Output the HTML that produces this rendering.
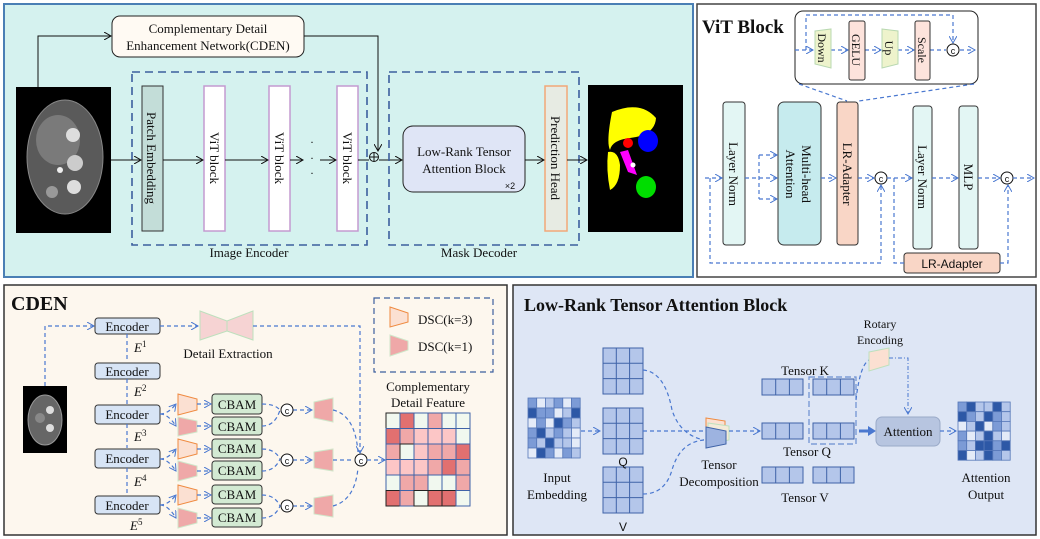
<!DOCTYPE html>
<html><head><meta charset="utf-8"><style>
html,body{margin:0;padding:0;background:#fff}
svg{display:block}
text{font-family:"Liberation Serif",serif;fill:#111}
.s{font-family:"Liberation Sans",sans-serif}
.d{stroke:#4a78d0;stroke-width:1.2;stroke-dasharray:4 3;fill:none}
.k{stroke:#111;stroke-width:1;fill:none}
</style></head><body>
<svg width="1040" height="539" viewBox="0 0 1040 539" xmlns="http://www.w3.org/2000/svg">
<defs>
<marker id="ak" markerWidth="8" markerHeight="8" refX="7" refY="4" orient="auto" markerUnits="userSpaceOnUse"><path d="M0,0 L7,4 L0,8" fill="none" stroke="#111" stroke-width="1"/></marker>
<marker id="ab" markerWidth="8" markerHeight="8" refX="7" refY="4" orient="auto" markerUnits="userSpaceOnUse"><path d="M0,0 L7,4 L0,8" fill="none" stroke="#4a78d0" stroke-width="1"/></marker>
</defs>

<!-- PANEL 1 -->
<rect x="4" y="4" width="689" height="273" fill="#d5f2ef" stroke="#4a7fb5" stroke-width="2"/>
<rect x="112" y="16" width="192" height="41" rx="8" fill="#fffaf3" stroke="#222"/>
<text x="208" y="33" font-size="13" text-anchor="middle">Complementary Detail</text>
<text x="208" y="50" font-size="13" text-anchor="middle">Enhancement Network(CDEN)</text>
<path d="M38,87 V36 H111" class="k" marker-end="url(#ak)"/>
<path d="M304,36 H378 V151" class="k" marker-end="url(#ak)"/>
<!-- CT -->
<rect x="16" y="87" width="95" height="146" fill="#000"/>
<ellipse cx="65" cy="157" rx="38" ry="57" fill="#5a5a5a" stroke="#888"/>
<ellipse cx="58" cy="140" rx="22" ry="25" fill="#7a7a7a"/>
<circle cx="73" cy="135" r="7" fill="#ddd"/><circle cx="75" cy="163" r="8" fill="#ccc"/><circle cx="74" cy="187" r="7" fill="#ddd"/>
<circle cx="52" cy="192" r="6" fill="#999"/><circle cx="60" cy="170" r="3" fill="#eee"/>
<!-- image encoder -->
<rect x="132" y="72" width="235" height="173" fill="none" stroke="#3d5f9e" stroke-width="1.6" stroke-dasharray="8 5"/>
<text x="249" y="257" font-size="13" text-anchor="middle">Image Encoder</text>
<rect x="142" y="86" width="21" height="145" fill="#c3ddd8" stroke="#333"/>
<text transform="translate(147,158) rotate(90)" font-size="13" text-anchor="middle">Patch Embedding</text>
<rect x="204" y="86" width="21" height="145" fill="#fff" stroke="#c49ad0" stroke-width="1.5"/>
<text transform="translate(210,158) rotate(90)" font-size="13" text-anchor="middle">ViT block</text>
<rect x="269" y="86" width="21" height="145" fill="#fff" stroke="#c49ad0" stroke-width="1.5"/>
<text transform="translate(275,158) rotate(90)" font-size="13" text-anchor="middle">ViT block</text>
<rect x="337" y="86" width="21" height="145" fill="#fff" stroke="#c49ad0" stroke-width="1.5"/>
<text transform="translate(343,158) rotate(90)" font-size="13" text-anchor="middle">ViT block</text>
<text x="312" y="146" font-size="12" text-anchor="middle">·</text><text x="312" y="162" font-size="12" text-anchor="middle">·</text><text x="312" y="177" font-size="12" text-anchor="middle">·</text>
<circle cx="374" cy="157" r="4.5" fill="none" stroke="#111"/><path d="M369.5,157 H378.5 M374,152.5 V161.5" stroke="#111"/>
<path d="M111,160 H141" class="k" marker-end="url(#ak)"/>
<path d="M163,160 H203" class="k" marker-end="url(#ak)"/>
<path d="M225,160 H268" class="k" marker-end="url(#ak)"/>
<path d="M290,160 H303" class="k" marker-end="url(#ak)"/>
<path d="M320,160 H336" class="k" marker-end="url(#ak)"/>
<path d="M358,160 H369"  class="k"/>
<path d="M379,160 H402" class="k" marker-end="url(#ak)"/>
<!-- mask decoder -->
<rect x="389" y="72" width="190" height="173" fill="none" stroke="#3d5f9e" stroke-width="1.6" stroke-dasharray="8 5"/>
<text x="479" y="257" font-size="13" text-anchor="middle">Mask Decoder</text>
<rect x="403" y="126" width="122" height="66" rx="10" fill="#dfe5f6" stroke="#222"/>
<text x="464" y="156" font-size="13" text-anchor="middle">Low-Rank Tensor</text>
<text x="464" y="173" font-size="13" text-anchor="middle">Attention Block</text>
<text x="510" y="189" font-size="9" class="s" text-anchor="middle">×2</text>
<rect x="545" y="86" width="22" height="145" fill="#e7ebe3" stroke="#f2a878" stroke-width="1.5"/>
<text transform="translate(551,158) rotate(90)" font-size="13" text-anchor="middle">Prediction Head</text>
<path d="M525,160 H544" class="k" marker-end="url(#ak)"/>
<path d="M567,160 H587" class="k" marker-end="url(#ak)"/>
<rect x="588" y="85" width="95" height="147" fill="#000"/>
<path d="M612,112 Q640,100 656,118 Q655,135 630,138 Q612,140 610,150 Q606,142 612,112 Z" fill="#ffff00"/>
<path d="M608,152 Q618,150 620,165 Q620,185 610,190 Q606,170 608,152Z" fill="#ffff00"/>
<ellipse cx="648" cy="141" rx="10" ry="11" fill="#0000ff"/>
<ellipse cx="628" cy="143" rx="5" ry="5" fill="#ff0000"/>
<path d="M620,152 L628,150 L637,175 L628,172 Z" fill="#ff00ff"/>
<ellipse cx="646" cy="187" rx="10" ry="11" fill="#00dd00"/>
<circle cx="633" cy="165" r="2.5" fill="#fff"/>

<!-- PANEL 2 -->
<rect x="697" y="4" width="339" height="273" fill="#fff" stroke="#444" stroke-width="1.5"/>
<text x="702" y="33" font-size="19" font-weight="bold">ViT Block</text>
<rect x="795" y="11" width="183" height="73" rx="8" fill="#fff" stroke="#222"/>
<path d="M795,50 H813" class="d" marker-end="url(#ab)"/>
<path d="M806,50 V15 H953 V43" class="d" marker-end="url(#ab)"/>
<path d="M831,50 H848" class="d" marker-end="url(#ab)"/>
<path d="M865,50 H881" class="d" marker-end="url(#ab)"/>
<path d="M898,50 H914" class="d" marker-end="url(#ab)"/>
<path d="M930,50 H946" class="d"/>
<path d="M960,50 H975" class="d" marker-end="url(#ab)"/>
<path d="M815,31 L831,29 L831,68 L815,64 Z" fill="#eef3cc" stroke="#b8d8b0"/>
<text transform="translate(818,48) rotate(90)" font-size="12" text-anchor="middle">Down</text>
<rect x="849" y="21" width="16" height="59" rx="2" fill="#fde3dc" stroke="#333"/>
<text transform="translate(852,50) rotate(90)" font-size="12" text-anchor="middle">GELU</text>
<path d="M882,29 L898,31 L898,64 L882,68 Z" fill="#eef3cc" stroke="#b8d8b0"/>
<text transform="translate(885,48) rotate(90)" font-size="12" text-anchor="middle">Up</text>
<rect x="915" y="21" width="15" height="59" rx="2" fill="#fde3dc" stroke="#333"/>
<text transform="translate(918,50) rotate(90)" font-size="12" text-anchor="middle">Scale</text>
<circle cx="953" cy="50" r="6" fill="#fff" stroke="#111"/><text x="953" y="54" font-size="9" class="s" text-anchor="middle">c</text>
<path d="M799,84 L847,101 M974,84 L859,101" class="d"/>
<rect x="723" y="102" width="22" height="143" rx="3" fill="#e3f6f4" stroke="#333"/>
<text transform="translate(729,174) rotate(90)" font-size="13" text-anchor="middle">Layer Norm</text>
<rect x="778" y="102" width="43" height="143" rx="6" fill="#c6ebee" stroke="#333"/>
<text transform="translate(802,174) rotate(90)" font-size="13" text-anchor="middle">Multi-head</text>
<text transform="translate(786,174) rotate(90)" font-size="13" text-anchor="middle">Attention</text>
<rect x="837" y="102" width="21" height="143" rx="3" fill="#f9d6c6" stroke="#333"/>
<text transform="translate(843,174) rotate(90)" font-size="13" text-anchor="middle">LR-Adapter</text>
<rect x="913" y="106" width="19" height="143" rx="3" fill="#e3f6f4" stroke="#333"/>
<text transform="translate(918,177) rotate(90)" font-size="13" text-anchor="middle">Layer Norm</text>
<rect x="959" y="106" width="19" height="143" rx="3" fill="#e3f6f4" stroke="#333"/>
<text transform="translate(964,177) rotate(90)" font-size="13" text-anchor="middle">MLP</text>
<rect x="904" y="253" width="96" height="20" rx="3" fill="#f9d6c6" stroke="#333"/>
<text x="952" y="268" font-size="12" class="s" text-anchor="middle">LR-Adapter</text>
<circle cx="881" cy="178" r="6" fill="#fff" stroke="#111"/><text x="881" y="182" font-size="9" class="s" text-anchor="middle">c</text>
<circle cx="1007" cy="178" r="6" fill="#fff" stroke="#111"/><text x="1007" y="182" font-size="9" class="s" text-anchor="middle">c</text>
<path d="M705,178 H722" class="d" marker-end="url(#ab)"/>
<path d="M745,178 H777" class="d" marker-end="url(#ab)"/>
<path d="M759,155 V199" class="d"/>
<path d="M759,155 H777" class="d" marker-end="url(#ab)"/>
<path d="M759,199 H777" class="d" marker-end="url(#ab)"/>
<path d="M821,178 H836" class="d" marker-end="url(#ab)"/>
<path d="M858,178 H874" class="d" marker-end="url(#ab)"/>
<path d="M887,178 H912" class="d" marker-end="url(#ab)"/>
<path d="M932,178 H958" class="d" marker-end="url(#ab)"/>
<path d="M978,178 H1000" class="d" marker-end="url(#ab)"/>
<path d="M1013,178 H1034" class="d" marker-end="url(#ab)"/>
<path d="M710,178 V263 H881 V185" class="d" marker-end="url(#ab)"/>
<path d="M894,178 V263 H904" class="d"/>
<path d="M1000,263 H1008 V185" class="d" marker-end="url(#ab)"/>

<!-- PANEL 3 -->
<rect x="4" y="285" width="503" height="250" fill="#fdf7ee" stroke="#333" stroke-width="1.5"/>
<text x="11" y="310" font-size="20" font-weight="bold">CDEN</text>
<rect x="23" y="386" width="44" height="67" fill="#000"/>
<ellipse cx="45" cy="420" rx="17" ry="25" fill="#666" stroke="#999"/>
<circle cx="50" cy="410" r="4" fill="#ddd"/><circle cx="50" cy="428" r="4" fill="#ddd"/><circle cx="40" cy="418" r="5" fill="#888"/>
<path d="M45,386 V326 H94" class="d" marker-end="url(#ab)"/>
<g font-size="13">
<rect x="95" y="318" width="65" height="16" rx="3" fill="#d7e4f5" stroke="#333"/><text x="127" y="331" text-anchor="middle">Encoder</text>
<rect x="95" y="363" width="65" height="16" rx="3" fill="#d7e4f5" stroke="#333"/><text x="127" y="376" text-anchor="middle">Encoder</text>
<rect x="95" y="405" width="65" height="19" rx="3" fill="#d7e4f5" stroke="#333"/><text x="127" y="419" text-anchor="middle">Encoder</text>
<rect x="95" y="449" width="65" height="19" rx="3" fill="#d7e4f5" stroke="#333"/><text x="127" y="463" text-anchor="middle">Encoder</text>
<rect x="95" y="496" width="65" height="18" rx="3" fill="#d7e4f5" stroke="#333"/><text x="127" y="510" text-anchor="middle">Encoder</text>
</g>
<path d="M127,334 V362 M127,379 V404 M127,424 V448 M127,468 V495" class="d" stroke-dasharray="3 2"/>
<g font-size="13" font-style="italic">
<text x="134" y="352">E<tspan font-size="9" dy="-5" font-style="normal">1</tspan></text>
<text x="134" y="396">E<tspan font-size="9" dy="-5" font-style="normal">2</tspan></text>
<text x="134" y="441">E<tspan font-size="9" dy="-5" font-style="normal">3</tspan></text>
<text x="134" y="486">E<tspan font-size="9" dy="-5" font-style="normal">4</tspan></text>
<text x="130" y="530">E<tspan font-size="9" dy="-5" font-style="normal">5</tspan></text>
</g>
<path d="M160,326 H198" class="d" marker-end="url(#ab)"/>
<path d="M200,311 L227,321 L253,311 L253,340 L227,331 L200,340 Z" fill="#f6d3d3" stroke="#bde0bd"/>
<path d="M227,321 V331" stroke="#bde0bd"/>
<text x="228" y="358" font-size="13" text-anchor="middle">Detail Extraction</text>
<path d="M253,326 H360 V453" class="d" marker-end="url(#ab)"/>
<rect x="374" y="298" width="119" height="74" fill="none" stroke="#3d5f9e" stroke-width="1.2" stroke-dasharray="6 4"/>
<path d="M390,307 L408,313 L408,322 L390,327 Z" fill="#fbe0d2" stroke="#ef8a40"/>
<text x="418" y="324" font-size="13">DSC(k=3)</text>
<path d="M390,335 L408,341 L408,350 L390,356 Z" fill="#efa8a8" stroke="#cfe6c9"/>
<text x="418" y="351" font-size="13">DSC(k=1)</text>
<g>
<path d="M178,394 L197,399 L197,410 L178,415 Z" fill="#fbe0d2" stroke="#ef8a40"/>
<path d="M178,417 L197,421 L197,432 L178,436 Z" fill="#efa8a8" stroke="#cfe6c9"/>
<path d="M178,439 L197,444 L197,454 L178,459 Z" fill="#fbe0d2" stroke="#ef8a40"/>
<path d="M178,461 L197,466 L197,476 L178,481 Z" fill="#efa8a8" stroke="#cfe6c9"/>
<path d="M178,485 L197,490 L197,500 L178,505 Z" fill="#fbe0d2" stroke="#ef8a40"/>
<path d="M178,508 L197,513 L197,523 L178,528 Z" fill="#efa8a8" stroke="#cfe6c9"/>
</g>
<g font-size="13">
<rect x="212" y="394" width="50" height="20" rx="3" fill="#d3ead3" stroke="#333"/><text x="237" y="409" text-anchor="middle">CBAM</text>
<rect x="212" y="417" width="50" height="18" rx="3" fill="#d3ead3" stroke="#333"/><text x="237" y="431" text-anchor="middle">CBAM</text>
<rect x="212" y="439" width="50" height="19" rx="3" fill="#d3ead3" stroke="#333"/><text x="237" y="453" text-anchor="middle">CBAM</text>
<rect x="212" y="461" width="50" height="19" rx="3" fill="#d3ead3" stroke="#333"/><text x="237" y="475" text-anchor="middle">CBAM</text>
<rect x="212" y="485" width="50" height="19" rx="3" fill="#d3ead3" stroke="#333"/><text x="237" y="499" text-anchor="middle">CBAM</text>
<rect x="212" y="508" width="50" height="19" rx="3" fill="#d3ead3" stroke="#333"/><text x="237" y="522" text-anchor="middle">CBAM</text>
</g>
<g class="d" marker-end="url(#ab)">
<path d="M160,414 Q168,414 176,404"/><path d="M160,414 Q168,414 176,426"/>
<path d="M160,459 Q168,459 176,449"/><path d="M160,459 Q168,459 176,471"/>
<path d="M160,505 Q168,505 176,495"/><path d="M160,505 Q168,505 176,518"/>
<path d="M197,404 H211"/><path d="M197,426 H211"/><path d="M197,449 H211"/><path d="M197,471 H211"/><path d="M197,495 H211"/><path d="M197,518 H211"/>
<path d="M293,410 H312"/><path d="M293,460 H312"/><path d="M293,506 H312"/>
</g>
<path d="M262,404 Q275,404 280,410 M262,426 Q275,426 280,410 M262,449 Q275,449 280,459 M262,471 Q275,471 280,459 M262,495 Q275,495 280,506 M262,518 Q275,518 280,506" class="d"/>
<circle cx="287" cy="410" r="6" fill="#fff" stroke="#111"/><text x="287" y="414" font-size="9" class="s" text-anchor="middle">c</text>
<circle cx="287" cy="460" r="6" fill="#fff" stroke="#111"/><text x="287" y="464" font-size="9" class="s" text-anchor="middle">c</text>
<circle cx="287" cy="506" r="6" fill="#fff" stroke="#111"/><text x="287" y="510" font-size="9" class="s" text-anchor="middle">c</text>
<path d="M314,402 L333,398 L333,422 L314,418 Z" fill="#efa8a8" stroke="#cfe6c9"/>
<path d="M314,452 L333,449 L333,471 L314,468 Z" fill="#efa8a8" stroke="#cfe6c9"/>
<path d="M314,498 L333,495 L333,517 L314,514 Z" fill="#efa8a8" stroke="#cfe6c9"/>
<path d="M333,410 Q355,415 358,452 M333,460 H353 M333,506 Q355,500 358,468" class="d"/>
<circle cx="361" cy="460" r="6" fill="#fff" stroke="#111"/><text x="361" y="464" font-size="9" class="s" text-anchor="middle">c</text>
<path d="M367,460 H385" class="d" marker-end="url(#ab)"/>
<text x="428" y="391" font-size="13" text-anchor="middle">Complementary</text>
<text x="428" y="407" font-size="13" text-anchor="middle">Detail Feature</text>
<g stroke="#3f63a8" stroke-width="1">
<rect x="386" y="413" width="14" height="15.5" fill="#f1f8ef" stroke="#222"/><rect x="400" y="413" width="14" height="15.5" fill="#e27070"/><rect x="414" y="413" width="14" height="15.5" fill="#f1f8ef"/><rect x="428" y="413" width="14" height="15.5" fill="#f0a8a8"/><rect x="442" y="413" width="14" height="15.5" fill="#f1f8ef"/><rect x="456" y="413" width="14" height="15.5" fill="#f1f8ef"/>
<rect x="386" y="428.5" width="14" height="15.5" fill="#e27070"/><rect x="400" y="428.5" width="14" height="15.5" fill="#f0a8a8"/><rect x="414" y="428.5" width="14" height="15.5" fill="#fcc6c6"/><rect x="428" y="428.5" width="14" height="15.5" fill="#fcc6c6"/><rect x="442" y="428.5" width="14" height="15.5" fill="#fcc6c6"/><rect x="456" y="428.5" width="14" height="15.5" fill="#f1f8ef"/>
<rect x="386" y="444" width="14" height="15.5" fill="#f0a8a8"/><rect x="400" y="444" width="14" height="15.5" fill="#f1f8ef" stroke="#222"/><rect x="414" y="444" width="14" height="15.5" fill="#fcc6c6"/><rect x="428" y="444" width="14" height="15.5" fill="#f0a8a8"/><rect x="442" y="444" width="14" height="15.5" fill="#f0a8a8"/><rect x="456" y="444" width="14" height="15.5" fill="#e27070"/>
<rect x="386" y="459.5" width="14" height="15.5" fill="#fcc6c6"/><rect x="400" y="459.5" width="14" height="15.5" fill="#fcc6c6"/><rect x="414" y="459.5" width="14" height="15.5" fill="#fcc6c6"/><rect x="428" y="459.5" width="14" height="15.5" fill="#f0a8a8"/><rect x="442" y="459.5" width="14" height="15.5" fill="#e27070"/><rect x="456" y="459.5" width="14" height="15.5" fill="#f0a8a8"/>
<rect x="386" y="475" width="14" height="15.5" fill="#f1f8ef"/><rect x="400" y="475" width="14" height="15.5" fill="#f0a8a8"/><rect x="414" y="475" width="14" height="15.5" fill="#f0a8a8"/><rect x="428" y="475" width="14" height="15.5" fill="#f1f8ef"/><rect x="442" y="475" width="14" height="15.5" fill="#f1f8ef"/><rect x="456" y="475" width="14" height="15.5" fill="#f0a8a8"/>
<rect x="386" y="490.5" width="14" height="15.5" fill="#e27070" stroke="#222"/><rect x="400" y="490.5" width="14" height="15.5" fill="#f0a8a8"/><rect x="414" y="490.5" width="14" height="15.5" fill="#f1f8ef" stroke="#222"/><rect x="428" y="490.5" width="14" height="15.5" fill="#e27070" stroke="#222"/><rect x="442" y="490.5" width="14" height="15.5" fill="#e27070" stroke="#222"/><rect x="456" y="490.5" width="14" height="15.5" fill="#f1f8ef"/>
</g>

<!-- PANEL 4 -->
<rect x="513" y="285" width="523" height="250" fill="#dee6f5" stroke="#333" stroke-width="1.5"/>
<text x="524" y="311" font-size="18" font-weight="bold">Low-Rank Tensor Attention Block</text>
<g stroke="#5577b8" stroke-width="0.8">
<rect x="528" y="398" width="8.7" height="10" fill="#7c9bd6"/><rect x="536.7" y="398" width="8.7" height="10" fill="#e4ebf8"/><rect x="545.4" y="398" width="8.7" height="10" fill="#b4c6ea"/><rect x="554.1" y="398" width="8.7" height="10" fill="#7c9bd6"/><rect x="562.8" y="398" width="8.7" height="10" fill="#e4ebf8"/><rect x="571.5" y="398" width="8.7" height="10" fill="#7c9bd6"/>
<rect x="528" y="408" width="8.7" height="10" fill="#2d58a6"/><rect x="536.7" y="408" width="8.7" height="10" fill="#7c9bd6"/><rect x="545.4" y="408" width="8.7" height="10" fill="#7c9bd6"/><rect x="554.1" y="408" width="8.7" height="10" fill="#e4ebf8"/><rect x="562.8" y="408" width="8.7" height="10" fill="#b4c6ea"/><rect x="571.5" y="408" width="8.7" height="10" fill="#2d58a6"/>
<rect x="528" y="418" width="8.7" height="10" fill="#e4ebf8"/><rect x="536.7" y="418" width="8.7" height="10" fill="#7c9bd6"/><rect x="545.4" y="418" width="8.7" height="10" fill="#e4ebf8"/><rect x="554.1" y="418" width="8.7" height="10" fill="#2d58a6"/><rect x="562.8" y="418" width="8.7" height="10" fill="#7c9bd6"/><rect x="571.5" y="418" width="8.7" height="10" fill="#b4c6ea"/>
<rect x="528" y="428" width="8.7" height="10" fill="#7c9bd6"/><rect x="536.7" y="428" width="8.7" height="10" fill="#2d58a6"/><rect x="545.4" y="428" width="8.7" height="10" fill="#b4c6ea"/><rect x="554.1" y="428" width="8.7" height="10" fill="#7c9bd6"/><rect x="562.8" y="428" width="8.7" height="10" fill="#b4c6ea"/><rect x="571.5" y="428" width="8.7" height="10" fill="#e4ebf8"/>
<rect x="528" y="438" width="8.7" height="10" fill="#7c9bd6"/><rect x="536.7" y="438" width="8.7" height="10" fill="#b4c6ea"/><rect x="545.4" y="438" width="8.7" height="10" fill="#2d58a6"/><rect x="554.1" y="438" width="8.7" height="10" fill="#b4c6ea"/><rect x="562.8" y="438" width="8.7" height="10" fill="#b4c6ea"/><rect x="571.5" y="438" width="8.7" height="10" fill="#e4ebf8"/>
<rect x="528" y="448" width="8.7" height="10" fill="#e4ebf8"/><rect x="536.7" y="448" width="8.7" height="10" fill="#2d58a6"/><rect x="545.4" y="448" width="8.7" height="10" fill="#7c9bd6"/><rect x="554.1" y="448" width="8.7" height="10" fill="#e4ebf8"/><rect x="562.8" y="448" width="8.7" height="10" fill="#7c9bd6"/><rect x="571.5" y="448" width="8.7" height="10" fill="#b4c6ea"/>
</g>
<text x="557" y="482" font-size="13" text-anchor="middle">Input</text>
<text x="557" y="499" font-size="13" text-anchor="middle">Embedding</text>
<path d="M581,431 H600" class="d" marker-end="url(#ab)"/>
<g fill="#b4c6ea" stroke="#3f63a8" stroke-width="1">
<rect x="603" y="348" width="40" height="46"/><rect x="603" y="408" width="40" height="46"/><rect x="603" y="467" width="40" height="46"/>
</g>
<path d="M616.3,348 V394 M629.6,348 V394 M603,363.3 H643 M603,378.6 H643 M616.3,408 V454 M629.6,408 V454 M603,423.3 H643 M603,438.6 H643 M616.3,467 V513 M629.6,467 V513 M603,482.3 H643 M603,497.6 H643" stroke="#3f63a8" stroke-width="1"/>
<text x="623" y="466" font-size="12" class="s" text-anchor="middle">Q</text>
<text x="623" y="531" font-size="12" class="s" text-anchor="middle">V</text>
<path d="M643,370 Q665,372 672,410 Q680,435 704,440 M643,431 H704 M643,494 Q665,494 672,470 Q680,442 704,440" class="d"/>
<path d="M706,418 L725,421 L725,436 L706,440 Z" fill="#fbe0d2" stroke="#ef8a40"/>
<path d="M708,423 L729,426 L729,440 L708,444 Z" fill="#f3ead8" stroke="#bde0bd"/>
<path d="M706,427 L726,431 L726,444 L706,448 Z" fill="#9db3e0" stroke="#3f63a8"/>
<text x="719" y="469" font-size="13" text-anchor="middle">Tensor</text>
<text x="719" y="486" font-size="13" text-anchor="middle">Decomposition</text>
<path d="M729,431 H760" class="d" marker-end="url(#ab)"/>
<g fill="#b4c6ea" stroke="#3f63a8" stroke-width="1">
<rect x="762" y="379" width="41" height="16"/><rect x="813" y="379" width="41" height="16"/>
<rect x="762" y="423" width="41" height="16"/><rect x="813" y="423" width="41" height="16"/>
<rect x="762" y="467" width="41" height="16"/><rect x="813" y="467" width="41" height="16"/>
</g>
<path d="M775.7,379 V395 M789.4,379 V395 M826.7,379 V395 M840.4,379 V395 M775.7,423 V439 M789.4,423 V439 M826.7,423 V439 M840.4,423 V439 M775.7,467 V483 M789.4,467 V483 M826.7,467 V483 M840.4,467 V483" stroke="#3f63a8"/>
<text x="805" y="375" font-size="13" text-anchor="middle">Tensor K</text>
<text x="807" y="456" font-size="13" text-anchor="middle">Tensor Q</text>
<text x="805" y="502" font-size="13" text-anchor="middle">Tensor V</text>
<rect x="809" y="377" width="47" height="67" fill="none" stroke="#6a8ed0" stroke-width="1.2" stroke-dasharray="6 3"/>
<path d="M856,400 Q860,365 869,360" class="d" stroke="#8aa8e0"/>
<path d="M869,352 L889,348 L889,365 L869,371 Z" fill="#fbe0d2" stroke="#bde0bd"/>
<text x="880" y="328" font-size="12" text-anchor="middle">Rotary</text>
<text x="880" y="344" font-size="12" text-anchor="middle">Encoding</text>
<path d="M889,358 H908 V414" fill="none" stroke="#4a78d0" stroke-width="1" stroke-dasharray="4 2 1 2" marker-end="url(#ab)"/>
<path d="M859,431 H869" stroke="#4a78d0" stroke-width="3"/>
<path d="M868,426 L876,431 L868,436 Z" fill="#4a78d0"/>
<rect x="876" y="417" width="64" height="29" rx="6" fill="#b7c5e0" stroke="#9aaac8"/>
<text x="908" y="436" font-size="13" text-anchor="middle">Attention</text>
<path d="M940,431 H956" class="d" marker-end="url(#ab)"/>
<g stroke="#5577b8" stroke-width="0.8">
<rect x="958" y="402" width="8.7" height="9.7" fill="#7c9bd6"/><rect x="966.7" y="402" width="8.7" height="9.7" fill="#2d58a6"/><rect x="975.4" y="402" width="8.7" height="9.7" fill="#b4c6ea"/><rect x="984.1" y="402" width="8.7" height="9.7" fill="#b4c6ea"/><rect x="992.8" y="402" width="8.7" height="9.7" fill="#2d58a6"/><rect x="1001.5" y="402" width="8.7" height="9.7" fill="#b4c6ea"/>
<rect x="958" y="411.7" width="8.7" height="9.7" fill="#2d58a6"/><rect x="966.7" y="411.7" width="8.7" height="9.7" fill="#7c9bd6"/><rect x="975.4" y="411.7" width="8.7" height="9.7" fill="#b4c6ea"/><rect x="984.1" y="411.7" width="8.7" height="9.7" fill="#2d58a6"/><rect x="992.8" y="411.7" width="8.7" height="9.7" fill="#7c9bd6"/><rect x="1001.5" y="411.7" width="8.7" height="9.7" fill="#b4c6ea"/>
<rect x="958" y="421.4" width="8.7" height="9.7" fill="#e4ebf8"/><rect x="966.7" y="421.4" width="8.7" height="9.7" fill="#b4c6ea"/><rect x="975.4" y="421.4" width="8.7" height="9.7" fill="#2d58a6"/><rect x="984.1" y="421.4" width="8.7" height="9.7" fill="#e4ebf8"/><rect x="992.8" y="421.4" width="8.7" height="9.7" fill="#7c9bd6"/><rect x="1001.5" y="421.4" width="8.7" height="9.7" fill="#b4c6ea"/>
<rect x="958" y="431.1" width="8.7" height="9.7" fill="#7c9bd6"/><rect x="966.7" y="431.1" width="8.7" height="9.7" fill="#e4ebf8"/><rect x="975.4" y="431.1" width="8.7" height="9.7" fill="#b4c6ea"/><rect x="984.1" y="431.1" width="8.7" height="9.7" fill="#2d58a6"/><rect x="992.8" y="431.1" width="8.7" height="9.7" fill="#b4c6ea"/><rect x="1001.5" y="431.1" width="8.7" height="9.7" fill="#e4ebf8"/>
<rect x="958" y="440.8" width="8.7" height="9.7" fill="#7c9bd6"/><rect x="966.7" y="440.8" width="8.7" height="9.7" fill="#b4c6ea"/><rect x="975.4" y="440.8" width="8.7" height="9.7" fill="#2d58a6"/><rect x="984.1" y="440.8" width="8.7" height="9.7" fill="#2d58a6"/><rect x="992.8" y="440.8" width="8.7" height="9.7" fill="#7c9bd6"/><rect x="1001.5" y="440.8" width="8.7" height="9.7" fill="#2d58a6"/>
<rect x="958" y="450.5" width="8.7" height="9.7" fill="#2d58a6"/><rect x="966.7" y="450.5" width="8.7" height="9.7" fill="#e4ebf8"/><rect x="975.4" y="450.5" width="8.7" height="9.7" fill="#b4c6ea"/><rect x="984.1" y="450.5" width="8.7" height="9.7" fill="#2d58a6"/><rect x="992.8" y="450.5" width="8.7" height="9.7" fill="#7c9bd6"/><rect x="1001.5" y="450.5" width="8.7" height="9.7" fill="#b4c6ea"/>
</g>
<text x="986" y="482" font-size="13" text-anchor="middle">Attention</text>
<text x="986" y="499" font-size="13" text-anchor="middle">Output</text>
</svg>
</body></html>
